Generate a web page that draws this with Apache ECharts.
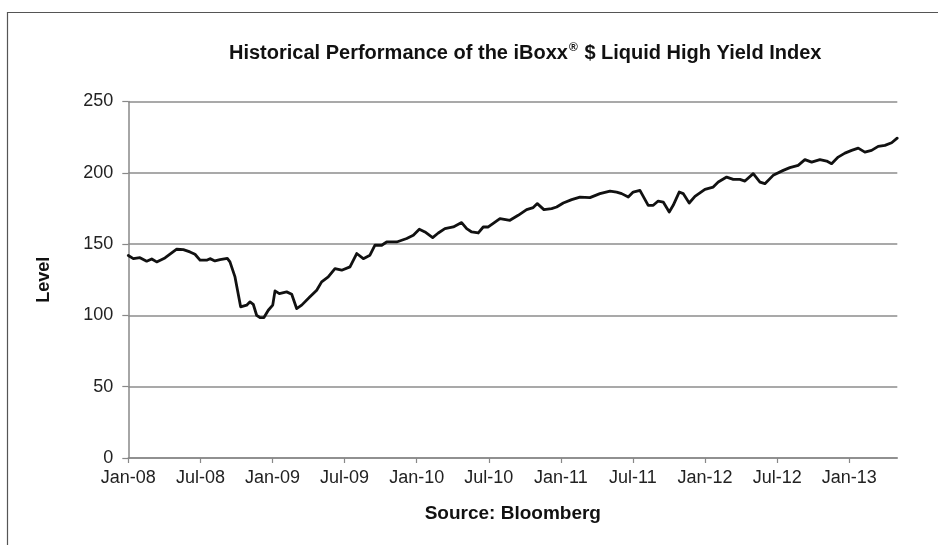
<!DOCTYPE html>
<html><head><meta charset="utf-8">
<script src="https://cdn.jsdelivr.net/npm/echarts@6/dist/echarts.min.js"></script>
<style>html,body{margin:0;padding:0;background:#fff}#c{width:938px;height:545px}</style>
</head><body><div id="c"></div>
<script>
// x: months elapsed since 1 Jan 2008
const monthsSinceJan08 = [0,0.42,0.97,1.53,1.95,2.36,3.05,3.47,4.03,4.58,5.13,5.55,5.97,6.52,6.80,7.21,7.63,8.24,8.46,8.88,9.35,9.85,10.13,10.40,10.68,10.96,11.29,11.65,12.02,12.21,12.57,13.18,13.60,14.01,14.43,15.12,15.68,16.09,16.64,17.20,17.76,18.45,19.01,19.56,20.11,20.53,21.09,21.50,22.34,23.17,23.72,24.22,24.69,25.33,25.80,26.35,27.05,27.74,28.16,28.58,29.13,29.54,29.96,30.93,31.76,32.45,33.15,33.70,34.04,34.59,35.23,35.65,36.20,36.90,37.59,38.42,39.25,40.09,40.64,41.06,41.61,42.02,42.58,43.27,43.69,44.10,44.52,45.02,45.35,45.85,46.18,46.68,47.16,47.99,48.68,49.10,49.80,50.35,50.90,51.32,52.01,52.57,52.98,53.67,54.51,55.06,55.75,56.31,56.87,57.56,58.12,58.53,59.08,59.64,60.20,60.75,61.30,61.86,62.41,62.97,63.53,63.99];
const level = [142,139.8,140.5,138,139.6,137.5,140.3,142.9,146.4,146.1,144.5,142.9,138.7,138.7,139.8,138.2,139.1,140,137.5,127,106,107.2,109.5,107.8,100.1,98.5,98.5,103.6,107.2,117.2,115.3,116.5,114.8,104.8,107.2,113,117.6,123.5,127,132.8,131.7,134,143.4,139.8,142.2,149.2,149.2,151.5,151.5,153.9,156.2,160.4,158.5,154.6,157.8,160.8,162,165.1,160.8,158.5,157.8,162,162,167.9,166.7,170.2,174.2,175.6,178.4,174.2,174.9,176,178.8,181.2,183,182.6,185.4,187.2,186.5,185.4,183,186.5,187.7,177.2,177.2,180.2,179.5,172.5,177.2,186.5,185.4,178.8,183.5,188.4,190,193.5,197,195.4,195.4,194.2,199.4,193.5,192.4,198.2,201.7,203.6,205.2,209.2,207.5,209.2,208.2,206.4,211,213.8,215.7,217.3,214.5,215.7,218.5,219.2,221.1,224.3];
const xTickLabels = ['Jan-08','Jul-08','Jan-09','Jul-09','Jan-10','Jul-10','Jan-11','Jul-11','Jan-12','Jul-12','Jan-13'];
const xTickMonths = [0,6,12,18,24,30,36,42,48,54,60];
const yTicks = [0,50,100,150,200,250];
const titleBefore = 'Historical Performance of the iBoxx';
const titleMark = '\u00AE';
const titleAfter = ' $ Liquid High Yield Index';
const yAxisName = 'Level';
const sourceText = 'Source: Bloomberg';

const FONT = "'Liberation Sans', Arial, sans-serif";
const chart = echarts.init(document.getElementById('c'), null, {renderer: 'canvas'});
chart.setOption({
  animation: false,
  backgroundColor: '#fff',
  graphic: [{
    type: 'rect', silent: true, z: 100,
    shape: {x: 7.5, y: 12.5, width: 1000, height: 700},
    style: {fill: 'none', stroke: '#555', lineWidth: 1.2}
  }],
  title: {
    text: '{a|' + titleBefore + '}{s|' + titleMark + '}{a|' + titleAfter + '}',
    left: 224, top: 37,
    textStyle: {
      fontFamily: FONT, fontSize: 20, fontWeight: 'bold', color: '#111',
      rich: {
        a: {fontFamily: FONT, fontSize: 20, fontWeight: 'bold', color: '#111', height: 22},
        s: {fontFamily: FONT, fontSize: 12, fontWeight: 'bold', color: '#111', verticalAlign: 'top', padding: [0, 1, 8, 1]}
      }
    }
  },
  grid: {left: 128.3, right: 40.7, top: 101.5, bottom: 87, containLabel: false},
  xAxis: {
    type: 'value', min: 0, max: 64, interval: 6,
    name: sourceText, nameLocation: 'middle', nameGap: 46,
    nameTextStyle: {fontFamily: FONT, fontSize: 19, fontWeight: 'bold', color: '#111'},
    axisLine: {show: true, lineStyle: {color: '#888', width: 1.5}},
    axisTick: {show: true, length: 5, customValues: xTickMonths, lineStyle: {color: '#888', width: 1.2}},
    axisLabel: {
      customValues: xTickMonths, margin: 11,
      fontFamily: FONT, fontSize: 18, color: '#222',
      formatter: v => { const i = xTickMonths.indexOf(v); return i >= 0 ? xTickLabels[i] : ''; }
    },
    splitLine: {show: false}
  },
  yAxis: {
    type: 'value', min: 0, max: 250, interval: 50,
    name: yAxisName, nameLocation: 'middle', nameGap: 75, nameRotate: 90,
    nameTextStyle: {fontFamily: FONT, fontSize: 18, fontWeight: 'bold', color: '#111'},
    axisLine: {show: true, lineStyle: {color: '#888', width: 1.5}},
    axisTick: {show: true, length: 6, lineStyle: {color: '#888', width: 1.2}},
    axisLabel: {margin: 15, fontFamily: FONT, fontSize: 18, color: '#222',
      formatter: v => yTicks.includes(v) ? String(v) : ''},
    splitLine: {show: true, lineStyle: {color: '#8c8c8c', width: 1.6}}
  },
  series: [{
    type: 'line', showSymbol: false, symbol: 'none', smooth: false,
    data: monthsSinceJan08.map((m, i) => [m, level[i]]),
    lineStyle: {color: '#111', width: 2.8, join: 'round', cap: 'round'}
  }]
});
</script>
</body></html>
